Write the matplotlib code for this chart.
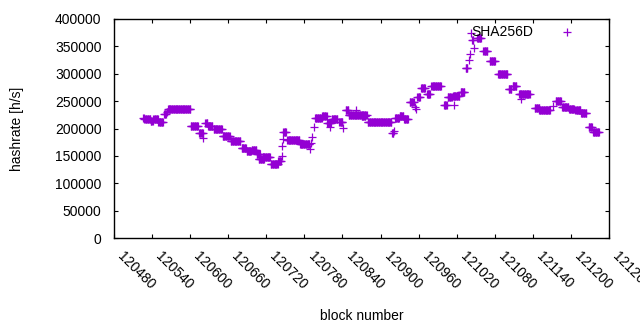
import numpy as np
import matplotlib.pyplot as plt
from matplotlib.transforms import ScaledTranslation

# runs of blocks that share the same hashrate estimate: first block, last block, value
run_start = [120526, 120528, 120538, 120542, 120550, 120559, 120563, 120565, 120601, 120614,
             120621, 120624, 120628, 120637, 120651, 120664, 120681, 120689, 120697, 120705,
             120708, 120714, 120727, 120739, 120744, 120745, 120746, 120747, 120753, 120773,
             120789, 120790, 120792, 120795, 120797, 120808, 120816, 120820, 120823, 120835,
             120841, 120845, 120850, 120862, 120870, 120880, 120918, 120921, 120923, 120930,
             120937, 120946, 120954, 120956, 120958, 120964, 120973, 120980, 121000, 121006,
             121014, 121016, 121026, 121034, 121039, 121041, 121043, 121044, 121048, 121052,
             121062, 121072, 121085, 121102, 121108, 121118, 121122, 121143, 121150, 121171,
             121176, 121186, 121197, 121207, 121216, 121228, 121235]
run_end = [120527, 120537, 120541, 120549, 120557, 120562, 120563, 120600, 120612, 120620,
           120621, 120627, 120635, 120650, 120662, 120679, 120688, 120696, 120704, 120710,
           120716, 120726, 120738, 120743, 120744, 120745, 120746, 120751, 120772, 120788,
           120789, 120790, 120792, 120795, 120807, 120815, 120822, 120820, 120832, 120840,
           120841, 120849, 120878, 120862, 120876, 120917, 120920, 120921, 120929, 120936,
           120943, 120952, 120954, 120956, 120962, 120970, 120978, 120995, 121004, 121012,
           121024, 121016, 121032, 121037, 121039, 121041, 121043, 121046, 121048, 121058,
           121068, 121080, 121100, 121106, 121114, 121135, 121122, 121150, 121167, 121171,
           121184, 121196, 121205, 121215, 121224, 121233, 121244]
run_value = [220000, 217000, 214000, 217500, 211000, 226000, 230000, 236000, 204500, 191000,
             183000, 209500, 204600, 198500, 186000, 176500, 163500, 158000, 161000, 153000,
             145000, 148500, 135000, 141000, 149000, 168000, 181000, 193000, 179000, 171000,
             162000, 174000, 184000, 202000, 218500, 222000, 210500, 203000, 217500, 211000,
             201500, 234000, 224500, 234000, 222800, 212400, 191000, 195000, 219500, 223000,
             216500, 249000, 240000, 236000, 257000, 273500, 263000, 277600, 243000, 257000,
             260000, 243000, 267000, 310000, 325000, 336000, 374000, 361600, 346500, 364700,
             341500, 323300, 299500, 271600, 277600, 262500, 253300, 236900, 233800, 241000,
             250200, 239800, 236000, 233800, 227700, 202200, 194200]

x_ticks = list(range(120480, 121261, 60))
y_ticks = list(range(0, 400001, 50000))

blocks = np.concatenate([np.arange(s, e + 1) for s, e in zip(run_start, run_end)])
rates = np.concatenate([np.full(e - s + 1, v) for s, e, v in zip(run_start, run_end, run_value)])

plt.rcParams['font.family'] = ['Liberation Sans', 'DejaVu Sans']
fs = 10
fig = plt.figure(figsize=(6.4, 3.3), dpi=100)
ax = fig.add_axes([114 / 640, 1 - 238 / 330, 495 / 640, 219 / 330])

purple = '#9400d3'
ax.plot(blocks, rates, linestyle='none', marker='+', markersize=5.4,
        markeredgewidth=0.9, color=purple)

ax.set_xlim(120480, 121260)
ax.set_ylim(0, 400000)
ax.set_xticks(x_ticks)
ax.set_xticklabels([str(t) for t in x_ticks], rotation=-45, ha='left',
                   va='center', rotation_mode='anchor')
ax.set_yticks(y_ticks)
ax.set_yticklabels([str(t) for t in y_ticks])
ax.tick_params(direction='in', length=3, width=0.8, top=True, right=True,
               labelsize=fs, colors='black')
ax.tick_params(axis='x', pad=11.5)
ax.tick_params(axis='y', pad=9)
# gnuplot puts the rotated labels a little to the right of the tick
shift = ScaledTranslation(6 / 100, 0, fig.dpi_scale_trans)
for lab in ax.get_xticklabels():
    lab.set_transform(lab.get_transform() + shift)
for sp in ax.spines.values():
    sp.set_linewidth(1)

ax.set_xlabel('block number', fontsize=fs)
ax.xaxis.set_label_coords(0.5, (238 - 309) / 219)
ax.set_ylabel('hashrate [h/s]', fontsize=fs)
ax.yaxis.set_label_coords((24 - 114) / 495, 0.5)

# key in the top right corner
fig.text(533 / 640, 1 - 32 / 330, 'SHA256D', ha='right', va='center', fontsize=fs)
ax.plot([567 / 640], [1 - 32 / 330], transform=fig.transFigure, marker='+',
        markersize=5.4, markeredgewidth=0.9, color=purple, linestyle='none')

fig.savefig('out.png', dpi=100)
